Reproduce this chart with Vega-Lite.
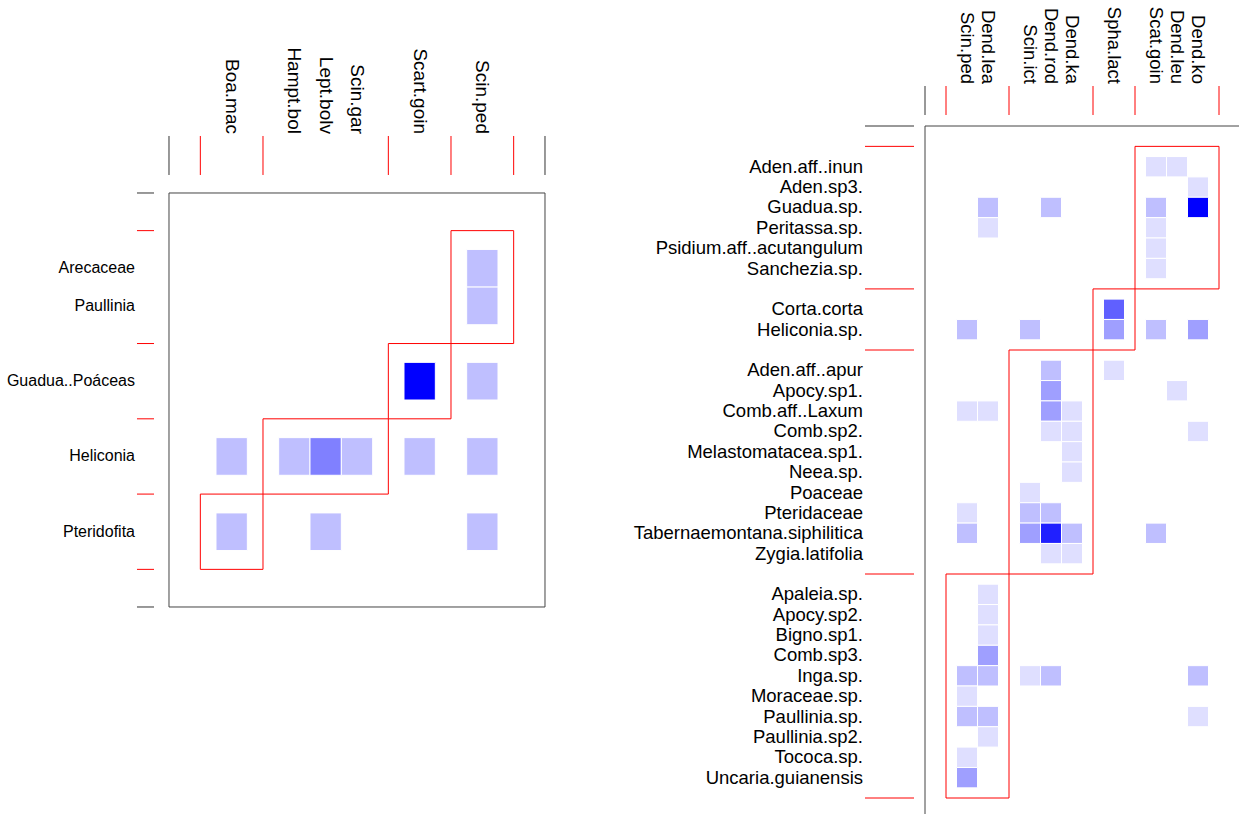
{
  "$schema": "https://vega.github.io/schema/vega-lite/v6.json",
  "width": 1239,
  "height": 814,
  "autosize": {"type": "none"},
  "padding": 0,
  "background": "white",
  "config": {"view": {"stroke": null}, "axis": {"disable": true}, "legend": {"disable": true}},
  "datasets": {
    "lrows": [
      {"name": "Arecaceae", "row": 2}, {"name": "Paullinia", "row": 3}, {"name": "Guadua..Poáceas", "row": 5},
      {"name": "Heliconia", "row": 7}, {"name": "Pteridofita", "row": 9}
    ],
    "lcols": [
      {"name": "Boa.mac", "col": 2}, {"name": "Hampt.bol", "col": 4}, {"name": "Lept.bolv", "col": 5},
      {"name": "Scin.gar", "col": 6}, {"name": "Scart.goin", "col": 8}, {"name": "Scin.ped", "col": 10}
    ],
    "lcells": [
      {"plant": "Arecaceae", "bird": "Scin.ped", "n": 1},
      {"plant": "Paullinia", "bird": "Scin.ped", "n": 1},
      {"plant": "Guadua..Poáceas", "bird": "Scart.goin", "n": 4},
      {"plant": "Guadua..Poáceas", "bird": "Scin.ped", "n": 1},
      {"plant": "Heliconia", "bird": "Boa.mac", "n": 1},
      {"plant": "Heliconia", "bird": "Hampt.bol", "n": 1},
      {"plant": "Heliconia", "bird": "Lept.bolv", "n": 2},
      {"plant": "Heliconia", "bird": "Scin.gar", "n": 1},
      {"plant": "Heliconia", "bird": "Scart.goin", "n": 1},
      {"plant": "Heliconia", "bird": "Scin.ped", "n": 1},
      {"plant": "Pteridofita", "bird": "Boa.mac", "n": 1},
      {"plant": "Pteridofita", "bird": "Lept.bolv", "n": 1},
      {"plant": "Pteridofita", "bird": "Scin.ped", "n": 1}
    ],
    "lcomp": [
      {"c0": 9, "c1": 11, "r0": 1, "r1": 4}, {"c0": 7, "c1": 9, "r0": 4, "r1": 6},
      {"c0": 3, "c1": 7, "r0": 6, "r1": 8}, {"c0": 1, "c1": 3, "r0": 8, "r1": 10}
    ],
    "lxt": [
      {"v": 0, "k": "b"}, {"v": 12, "k": "b"}, {"v": 1, "k": "r"}, {"v": 3, "k": "r"},
      {"v": 7, "k": "r"}, {"v": 9, "k": "r"}, {"v": 11, "k": "r"}
    ],
    "lyt": [
      {"v": 0, "k": "b"}, {"v": 11, "k": "b"}, {"v": 1, "k": "r"}, {"v": 4, "k": "r"},
      {"v": 6, "k": "r"}, {"v": 8, "k": "r"}, {"v": 10, "k": "r"}
    ],
    "rrows": [
      {"name": "Aden.aff..inun", "row": 2}, {"name": "Aden.sp3.", "row": 3}, {"name": "Guadua.sp.", "row": 4},
      {"name": "Peritassa.sp.", "row": 5}, {"name": "Psidium.aff..acutangulum", "row": 6}, {"name": "Sanchezia.sp.", "row": 7},
      {"name": "Corta.corta", "row": 9}, {"name": "Heliconia.sp.", "row": 10},
      {"name": "Aden.aff..apur", "row": 12}, {"name": "Apocy.sp1.", "row": 13}, {"name": "Comb.aff..Laxum", "row": 14},
      {"name": "Comb.sp2.", "row": 15}, {"name": "Melastomatacea.sp1.", "row": 16}, {"name": "Neea.sp.", "row": 17},
      {"name": "Poaceae", "row": 18}, {"name": "Pteridaceae", "row": 19}, {"name": "Tabernaemontana.siphilitica", "row": 20},
      {"name": "Zygia.latifolia", "row": 21},
      {"name": "Apaleia.sp.", "row": 23}, {"name": "Apocy.sp2.", "row": 24}, {"name": "Bigno.sp1.", "row": 25},
      {"name": "Comb.sp3.", "row": 26}, {"name": "Inga.sp.", "row": 27}, {"name": "Moraceae.sp.", "row": 28},
      {"name": "Paullinia.sp.", "row": 29}, {"name": "Paullinia.sp2.", "row": 30}, {"name": "Tococa.sp.", "row": 31},
      {"name": "Uncaria.guianensis", "row": 32}
    ],
    "rcols": [
      {"name": "Scin.ped", "col": 2}, {"name": "Dend.lea", "col": 3}, {"name": "Scin.ict", "col": 5},
      {"name": "Dend.rod", "col": 6}, {"name": "Dend.ka", "col": 7}, {"name": "Spha.lact", "col": 9},
      {"name": "Scat.goin", "col": 11}, {"name": "Dend.leu", "col": 12}, {"name": "Dend.ko", "col": 13}
    ],
    "rcells": [
      {"plant": "Aden.aff..inun", "bird": "Scat.goin", "n": 1},
      {"plant": "Aden.aff..inun", "bird": "Dend.leu", "n": 1},
      {"plant": "Aden.sp3.", "bird": "Dend.ko", "n": 1},
      {"plant": "Guadua.sp.", "bird": "Dend.lea", "n": 2},
      {"plant": "Guadua.sp.", "bird": "Dend.rod", "n": 2},
      {"plant": "Guadua.sp.", "bird": "Scat.goin", "n": 2},
      {"plant": "Guadua.sp.", "bird": "Dend.ko", "n": 8},
      {"plant": "Peritassa.sp.", "bird": "Dend.lea", "n": 1},
      {"plant": "Peritassa.sp.", "bird": "Scat.goin", "n": 1},
      {"plant": "Psidium.aff..acutangulum", "bird": "Scat.goin", "n": 1},
      {"plant": "Sanchezia.sp.", "bird": "Scat.goin", "n": 1},
      {"plant": "Corta.corta", "bird": "Spha.lact", "n": 5},
      {"plant": "Heliconia.sp.", "bird": "Scin.ped", "n": 2},
      {"plant": "Heliconia.sp.", "bird": "Scin.ict", "n": 2},
      {"plant": "Heliconia.sp.", "bird": "Spha.lact", "n": 3},
      {"plant": "Heliconia.sp.", "bird": "Scat.goin", "n": 2},
      {"plant": "Heliconia.sp.", "bird": "Dend.ko", "n": 3},
      {"plant": "Aden.aff..apur", "bird": "Dend.rod", "n": 2},
      {"plant": "Aden.aff..apur", "bird": "Spha.lact", "n": 1},
      {"plant": "Apocy.sp1.", "bird": "Dend.rod", "n": 3},
      {"plant": "Apocy.sp1.", "bird": "Dend.leu", "n": 1},
      {"plant": "Comb.aff..Laxum", "bird": "Scin.ped", "n": 1},
      {"plant": "Comb.aff..Laxum", "bird": "Dend.lea", "n": 1},
      {"plant": "Comb.aff..Laxum", "bird": "Dend.rod", "n": 3},
      {"plant": "Comb.aff..Laxum", "bird": "Dend.ka", "n": 1},
      {"plant": "Comb.sp2.", "bird": "Dend.rod", "n": 1},
      {"plant": "Comb.sp2.", "bird": "Dend.ka", "n": 1},
      {"plant": "Comb.sp2.", "bird": "Dend.ko", "n": 1},
      {"plant": "Melastomatacea.sp1.", "bird": "Dend.ka", "n": 1},
      {"plant": "Neea.sp.", "bird": "Dend.ka", "n": 1},
      {"plant": "Poaceae", "bird": "Scin.ict", "n": 1},
      {"plant": "Pteridaceae", "bird": "Scin.ped", "n": 1},
      {"plant": "Pteridaceae", "bird": "Scin.ict", "n": 2},
      {"plant": "Pteridaceae", "bird": "Dend.rod", "n": 2},
      {"plant": "Tabernaemontana.siphilitica", "bird": "Scin.ped", "n": 2},
      {"plant": "Tabernaemontana.siphilitica", "bird": "Scin.ict", "n": 3},
      {"plant": "Tabernaemontana.siphilitica", "bird": "Dend.rod", "n": 7},
      {"plant": "Tabernaemontana.siphilitica", "bird": "Dend.ka", "n": 2},
      {"plant": "Tabernaemontana.siphilitica", "bird": "Scat.goin", "n": 2},
      {"plant": "Zygia.latifolia", "bird": "Dend.rod", "n": 1},
      {"plant": "Zygia.latifolia", "bird": "Dend.ka", "n": 1},
      {"plant": "Apaleia.sp.", "bird": "Dend.lea", "n": 1},
      {"plant": "Apocy.sp2.", "bird": "Dend.lea", "n": 1},
      {"plant": "Bigno.sp1.", "bird": "Dend.lea", "n": 1},
      {"plant": "Comb.sp3.", "bird": "Dend.lea", "n": 3},
      {"plant": "Inga.sp.", "bird": "Scin.ped", "n": 2},
      {"plant": "Inga.sp.", "bird": "Dend.lea", "n": 2},
      {"plant": "Inga.sp.", "bird": "Scin.ict", "n": 1},
      {"plant": "Inga.sp.", "bird": "Dend.rod", "n": 2},
      {"plant": "Inga.sp.", "bird": "Dend.ko", "n": 2},
      {"plant": "Moraceae.sp.", "bird": "Scin.ped", "n": 1},
      {"plant": "Paullinia.sp.", "bird": "Scin.ped", "n": 2},
      {"plant": "Paullinia.sp.", "bird": "Dend.lea", "n": 2},
      {"plant": "Paullinia.sp.", "bird": "Dend.ko", "n": 1},
      {"plant": "Paullinia.sp2.", "bird": "Dend.lea", "n": 1},
      {"plant": "Tococa.sp.", "bird": "Scin.ped", "n": 1},
      {"plant": "Uncaria.guianensis", "bird": "Scin.ped", "n": 3}
    ],
    "rcomp": [
      {"c0": 10, "c1": 14, "r0": 1, "r1": 8}, {"c0": 8, "c1": 10, "r0": 8, "r1": 11},
      {"c0": 4, "c1": 8, "r0": 11, "r1": 22}, {"c0": 1, "c1": 4, "r0": 22, "r1": 33}
    ],
    "rxt": [
      {"v": 0, "k": "b"}, {"v": 15, "k": "b"}, {"v": 1, "k": "r"}, {"v": 4, "k": "r"},
      {"v": 8, "k": "r"}, {"v": 10, "k": "r"}, {"v": 14, "k": "r"}
    ],
    "ryt": [
      {"v": 0, "k": "b"}, {"v": 34, "k": "b"}, {"v": 1, "k": "r"}, {"v": 8, "k": "r"},
      {"v": 11, "k": "r"}, {"v": 22, "k": "r"}, {"v": 33, "k": "r"}
    ]
  },
  "layer": [
    {
      "layer": [
        {
          "data": {"name": "lcells"},
          "transform": [
            {"lookup": "plant", "from": {"data": {"name": "lrows"}, "key": "name", "fields": ["row"]}},
            {"lookup": "bird", "from": {"data": {"name": "lcols"}, "key": "name", "fields": ["col"]}}
          ],
          "mark": {"type": "rect", "stroke": "white", "strokeWidth": 1, "xOffset": -15.67, "x2Offset": 15.67, "yOffset": -18.82, "y2Offset": 18.82},
          "encoding": {
            "x": {"field": "col", "type": "quantitative", "scale": {"domain": [-5.3936, 34.149], "nice": false, "zero": false}},
            "x2": {"field": "col"},
            "y": {"field": "row", "type": "quantitative", "scale": {"domain": [-5.128, 16.5], "nice": false, "zero": false, "reverse": true}},
            "y2": {"field": "row"},
            "color": {"field": "n", "type": "quantitative", "scale": {"domain": [0, 4], "range": ["#ffffff", "#0000ff"], "interpolate": "rgb"}, "legend": null}
          }
        },
        {
          "data": {"name": "lcomp"},
          "mark": {"type": "rect", "fillOpacity": 0, "stroke": "#ff0000", "strokeWidth": 1},
          "encoding": {
            "x": {"field": "c0", "type": "quantitative", "scale": {"domain": [-5.3936, 34.149], "nice": false, "zero": false}},
            "x2": {"field": "c1"},
            "y": {"field": "r0", "type": "quantitative", "scale": {"domain": [-5.128, 16.5], "nice": false, "zero": false, "reverse": true}},
            "y2": {"field": "r1"}
          }
        },
        {
          "data": {"values": [{"c0": 0, "c1": 12, "r0": 0, "r1": 11}]},
          "mark": {"type": "rect", "fillOpacity": 0, "stroke": "#444444", "strokeWidth": 1},
          "encoding": {
            "x": {"field": "c0", "type": "quantitative", "scale": {"domain": [-5.3936, 34.149], "nice": false, "zero": false}},
            "x2": {"field": "c1"},
            "y": {"field": "r0", "type": "quantitative", "scale": {"domain": [-5.128, 16.5], "nice": false, "zero": false, "reverse": true}},
            "y2": {"field": "r1"}
          }
        },
        {
          "data": {"name": "lxt"},
          "mark": {"type": "rule", "strokeWidth": 1},
          "encoding": {
            "x": {"field": "v", "type": "quantitative", "scale": {"domain": [-5.3936, 34.149], "nice": false, "zero": false}},
            "y": {"datum": -1.5145, "type": "quantitative", "scale": {"domain": [-5.128, 16.5], "nice": false, "zero": false, "reverse": true}},
            "y2": {"datum": -0.4783},
            "stroke": {"condition": {"test": "datum.k === 'b'", "value": "#333333"}, "value": "#ff0000"}
          }
        },
        {
          "data": {"name": "lyt"},
          "mark": {"type": "rule", "strokeWidth": 1},
          "encoding": {
            "y": {"field": "v", "type": "quantitative", "scale": {"domain": [-5.128, 16.5], "nice": false, "zero": false, "reverse": true}},
            "x": {"datum": -1.0213, "type": "quantitative", "scale": {"domain": [-5.3936, 34.149], "nice": false, "zero": false}},
            "x2": {"datum": -0.4787},
            "stroke": {"condition": {"test": "datum.k === 'b'", "value": "#333333"}, "value": "#ff0000"}
          }
        },
        {
          "data": {"name": "lrows"},
          "mark": {"type": "text", "align": "right", "baseline": "middle", "font": "Liberation Sans", "fontSize": 16, "color": "#000000"},
          "encoding": {
            "x": {"datum": -1.085, "type": "quantitative", "scale": {"domain": [-5.3936, 34.149], "nice": false, "zero": false}},
            "y": {"field": "row", "type": "quantitative", "scale": {"domain": [-5.128, 16.5], "nice": false, "zero": false, "reverse": true}},
            "text": {"field": "name"}
          }
        },
        {
          "data": {"name": "lcols"},
          "mark": {"type": "text", "align": "right", "baseline": "middle", "angle": 90, "font": "Liberation Sans", "fontSize": 19, "color": "#000000"},
          "encoding": {
            "x": {"field": "col", "type": "quantitative", "scale": {"domain": [-5.3936, 34.149], "nice": false, "zero": false}},
            "y": {"datum": -1.568, "type": "quantitative", "scale": {"domain": [-5.128, 16.5], "nice": false, "zero": false, "reverse": true}},
            "text": {"field": "name"}
          }
        }
      ]
    },
    {
      "layer": [
        {
          "data": {"name": "rcells"},
          "transform": [
            {"lookup": "plant", "from": {"data": {"name": "rrows"}, "key": "name", "fields": ["row"]}},
            {"lookup": "bird", "from": {"data": {"name": "rcols"}, "key": "name", "fields": ["col"]}}
          ],
          "mark": {"type": "rect", "stroke": "white", "strokeWidth": 1, "xOffset": -10.5, "x2Offset": 10.5, "yOffset": -10.18, "y2Offset": 10.18},
          "encoding": {
            "x": {"field": "col", "type": "quantitative", "scale": {"domain": [-44.048, 14.952], "nice": false, "zero": false}},
            "x2": {"field": "col"},
            "y": {"field": "row", "type": "quantitative", "scale": {"domain": [-6.1874, 33.785], "nice": false, "zero": false, "reverse": true}},
            "y2": {"field": "row"},
            "color": {"field": "n", "type": "quantitative", "scale": {"domain": [0, 8], "range": ["#ffffff", "#0000ff"], "interpolate": "rgb"}, "legend": null}
          }
        },
        {
          "data": {"name": "rcomp"},
          "mark": {"type": "rect", "fillOpacity": 0, "stroke": "#ff0000", "strokeWidth": 1},
          "encoding": {
            "x": {"field": "c0", "type": "quantitative", "scale": {"domain": [-44.048, 14.952], "nice": false, "zero": false}},
            "x2": {"field": "c1"},
            "y": {"field": "r0", "type": "quantitative", "scale": {"domain": [-6.1874, 33.785], "nice": false, "zero": false, "reverse": true}},
            "y2": {"field": "r1"}
          }
        },
        {
          "data": {"values": [{"c0": 0, "c1": 15, "r0": 0, "r1": 34}]},
          "mark": {"type": "rect", "fillOpacity": 0, "stroke": "#444444", "strokeWidth": 1},
          "encoding": {
            "x": {"field": "c0", "type": "quantitative", "scale": {"domain": [-44.048, 14.952], "nice": false, "zero": false}},
            "x2": {"field": "c1"},
            "y": {"field": "r0", "type": "quantitative", "scale": {"domain": [-6.1874, 33.785], "nice": false, "zero": false, "reverse": true}},
            "y2": {"field": "r1"}
          }
        },
        {
          "data": {"name": "rxt"},
          "mark": {"type": "rule", "strokeWidth": 1},
          "encoding": {
            "x": {"field": "v", "type": "quantitative", "scale": {"domain": [-44.048, 14.952], "nice": false, "zero": false}},
            "y": {"datum": -1.964, "type": "quantitative", "scale": {"domain": [-6.1874, 33.785], "nice": false, "zero": false, "reverse": true}},
            "y2": {"datum": -0.54},
            "stroke": {"condition": {"test": "datum.k === 'b'", "value": "#333333"}, "value": "#ff0000"}
          }
        },
        {
          "data": {"name": "ryt"},
          "mark": {"type": "rule", "strokeWidth": 1},
          "encoding": {
            "y": {"field": "v", "type": "quantitative", "scale": {"domain": [-6.1874, 33.785], "nice": false, "zero": false, "reverse": true}},
            "x": {"datum": -2.857, "type": "quantitative", "scale": {"domain": [-44.048, 14.952], "nice": false, "zero": false}},
            "x2": {"datum": -0.524},
            "stroke": {"condition": {"test": "datum.k === 'b'", "value": "#333333"}, "value": "#ff0000"}
          }
        },
        {
          "data": {"name": "rrows"},
          "mark": {"type": "text", "align": "right", "baseline": "middle", "font": "Liberation Sans", "fontSize": 18.5, "color": "#000000"},
          "encoding": {
            "x": {"datum": -2.952, "type": "quantitative", "scale": {"domain": [-44.048, 14.952], "nice": false, "zero": false}},
            "y": {"field": "row", "type": "quantitative", "scale": {"domain": [-6.1874, 33.785], "nice": false, "zero": false, "reverse": true}},
            "text": {"field": "name"}
          }
        },
        {
          "data": {"name": "rcols"},
          "mark": {"type": "text", "align": "right", "baseline": "middle", "angle": 90, "font": "Liberation Sans", "fontSize": 18.5, "color": "#000000"},
          "encoding": {
            "x": {"field": "col", "type": "quantitative", "scale": {"domain": [-44.048, 14.952], "nice": false, "zero": false}},
            "y": {"datum": -2.0625, "type": "quantitative", "scale": {"domain": [-6.1874, 33.785], "nice": false, "zero": false, "reverse": true}},
            "text": {"field": "name"}
          }
        }
      ]
    }
  ],
  "resolve": {"scale": {"x": "independent", "y": "independent", "color": "independent"}}
}
